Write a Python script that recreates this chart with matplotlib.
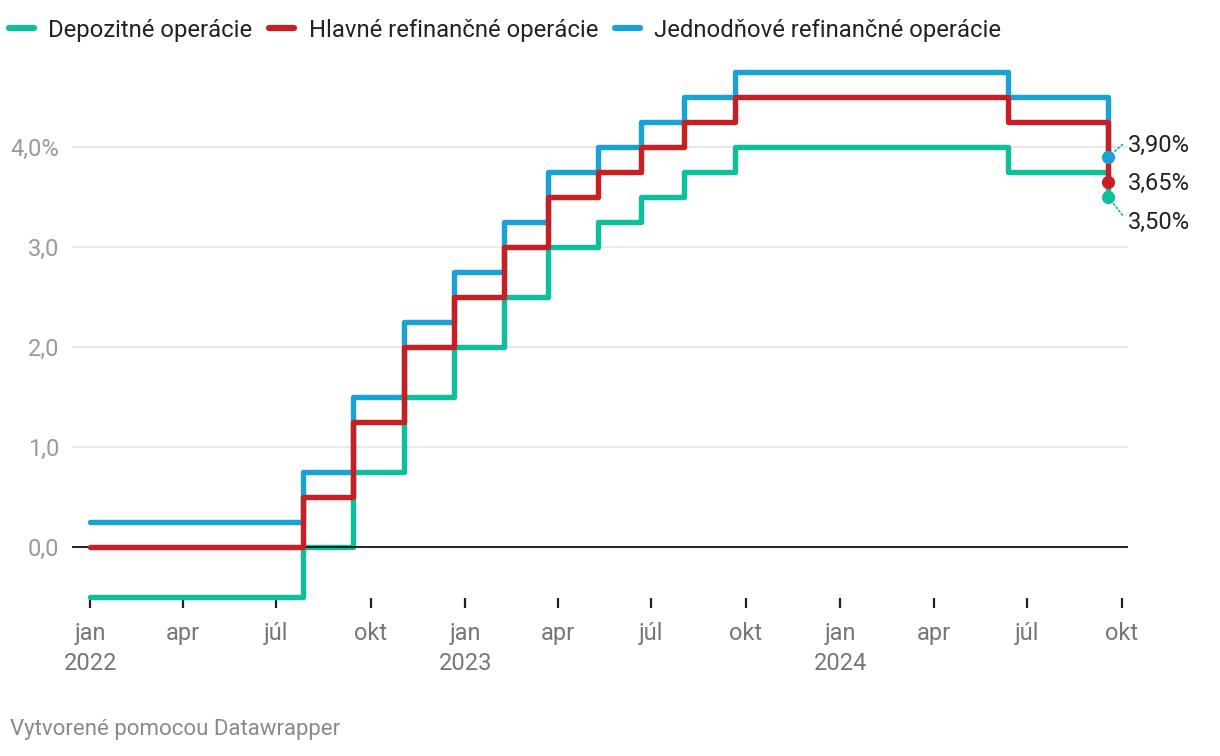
import pandas as pd
import matplotlib
matplotlib.use("Agg")
import matplotlib.pyplot as plt

plt.rcParams['font.family'] = ['Roboto', 'DejaVu Sans']

# ECB key rates (%), dates of change
dates = ["2022-01-01", "2022-07-27", "2022-09-14", "2022-11-02", "2022-12-21",
         "2023-02-08", "2023-03-22", "2023-05-10", "2023-06-21", "2023-08-02",
         "2023-09-20", "2024-06-12", "2024-09-18"]
deposit = [-0.50, 0.00, 0.75, 1.50, 2.00, 2.50, 3.00, 3.25, 3.50, 3.75, 4.00, 3.75, 3.50]
mro = [0.00, 0.50, 1.25, 2.00, 2.50, 3.00, 3.50, 3.75, 4.00, 4.25, 4.50, 4.25, 3.65]
mlf = [0.25, 0.75, 1.50, 2.25, 2.75, 3.25, 3.75, 4.00, 4.25, 4.50, 4.75, 4.50, 3.90]

series_names = ["Depozitné operácie", "Hlavné refinančné operácie", "Jednodňové refinančné operácie"]
colors = ["#0fbf9c", "#c81f24", "#1aa3d2"]
end_labels = ["3,50%", "3,65%", "3,90%"]
end_offsets = [(14, -18), (14, -1), (14, 8)]  # points

xtick_dates = pd.date_range("2022-01-01", "2024-10-01", freq="QS")
xtick_labels = ["jan\n2022", "apr", "júl", "okt", "jan\n2023", "apr", "júl", "okt",
                "jan\n2024", "apr", "júl", "okt"]
yticks = [0, 1, 2, 3, 4]
ytick_labels = ["0,0", "1,0", "2,0", "3,0", "4,0%"]

FS = 17

x = pd.to_datetime(dates)

W, H = 1220, 756
fig = plt.figure(figsize=(W / 100, H / 100), dpi=100)
ax = fig.add_axes([72 / W, (H - 598) / H, (1128 - 72) / W, 533 / H])

ax.set_ylim(-0.51, 4.82)
x0 = pd.Timestamp("2022-01-01") - pd.Timedelta(days=18)
x1 = pd.Timestamp("2024-10-01") + pd.Timedelta(days=6)
ax.set_xlim(x0, x1)

for s in ax.spines.values():
    s.set_visible(False)

# gridlines
for v in yticks:
    if v == 0:
        ax.axhline(0, color="#111111", lw=1.3, zorder=5)
    else:
        ax.axhline(v, color="#e3e3e3", lw=1.1, zorder=0)

# lines: blue first, then green, red on top
order = [2, 0, 1]
data = [deposit, mro, mlf]
handles = [None] * 3
for i in order:
    (ln,) = ax.plot(x, data[i], drawstyle="steps-post", color=colors[i], lw=3.9,
                    solid_capstyle="round", solid_joinstyle="round", clip_on=False,
                    zorder=3 + order.index(i), label=series_names[i])
    handles[i] = ln
    ax.plot(x[-1], data[i][-1], "o", color=colors[i], ms=9.5, mec="none",
            zorder=7 + order.index(i), clip_on=False)
    ax.annotate(end_labels[i], xy=(x[-1], data[i][-1]), xytext=end_offsets[i],
                textcoords="offset points", fontsize=FS, color="#222222",
                va="center", ha="left", annotation_clip=False)

# dotted connectors
ax.annotate("", xy=(x[-1], mlf[-1]), xytext=(10, 9), textcoords="offset points",
            arrowprops=dict(arrowstyle="-", color=colors[2], lw=1.2, ls=(0, (1, 1.5)),
                            shrinkA=0, shrinkB=5), annotation_clip=False)
ax.annotate("", xy=(x[-1], deposit[-1]), xytext=(10, -13), textcoords="offset points",
            arrowprops=dict(arrowstyle="-", color=colors[0], lw=1.2, ls=(0, (1, 1.5)),
                            shrinkA=0, shrinkB=5), annotation_clip=False)

ax.set_yticks(yticks)
ax.set_yticklabels(ytick_labels)
ax.tick_params(axis="y", length=0, pad=9, labelsize=FS, labelcolor="#9a9a9a")

ax.set_xticks(xtick_dates)
ax.set_xticklabels(xtick_labels, linespacing=1.4)
ax.tick_params(axis="x", length=7, width=1.6, color="#222222", direction="out",
               pad=10, labelsize=FS, labelcolor="#777777")
for lbl in ax.get_xticklabels():
    lbl.set_verticalalignment("top")

leg = fig.legend(handles=handles, loc="center left", bbox_to_anchor=(9 / W, 1 - 30 / H),
                 ncol=3, frameon=False, fontsize=17.2, handlelength=1.05,
                 handletextpad=0.6, columnspacing=0.7, borderaxespad=0, borderpad=0)
for t in leg.get_texts():
    t.set_color("#222222")
for h in leg.get_lines():
    h.set_linewidth(4.5)
    h.set_solid_capstyle("round")

fig.text(10 / W, 1 - 730 / H, "Vytvorené pomocou Datawrapper", fontsize=16,
         color="#8a8a8a", va="center", ha="left")

fig.savefig("out.png", dpi=100)
